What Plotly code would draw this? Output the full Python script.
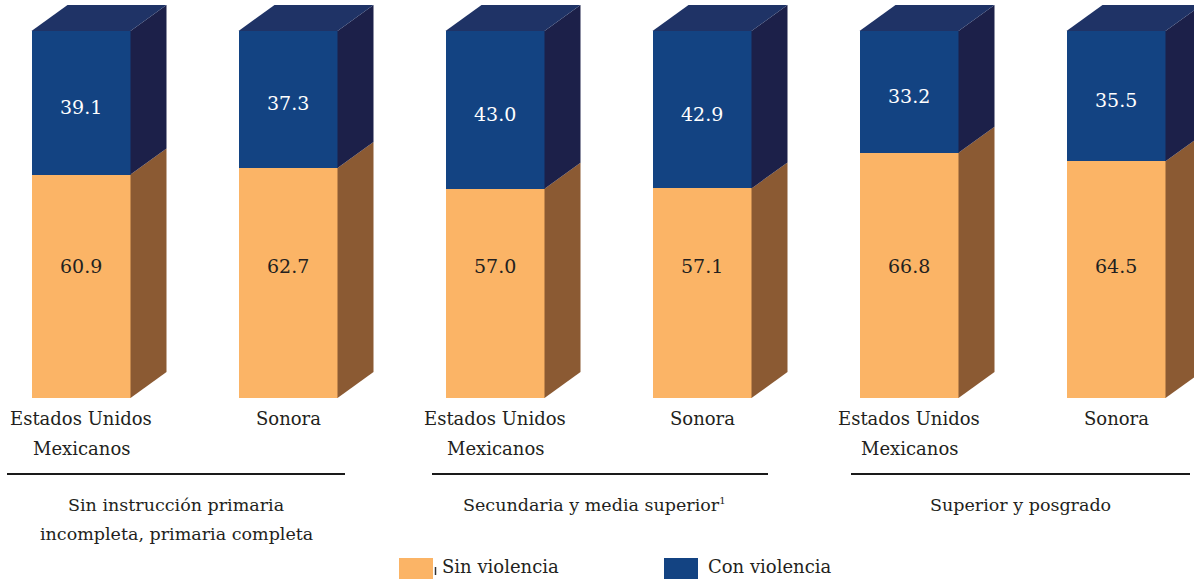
import plotly.graph_objects as go

# ---- data ----
categories = ["Estados Unidos<br>Mexicanos", "Sonora",
              "Estados Unidos<br>Mexicanos", "Sonora",
              "Estados Unidos<br>Mexicanos", "Sonora"]
sin_violencia = [60.9, 62.7, 57.0, 57.1, 66.8, 64.5]
con_violencia = [39.1, 37.3, 43.0, 42.9, 33.2, 35.5]
groups = ["Sin instrucción primaria<br>incompleta, primaria completa",
          "Secundaria y media superior<sup><span style='font-size:10px'>1</span></sup>",
          "Superior y posgrado"]
series_names = ["Sin violencia", "Con violencia"]

# ---- styling ----
W, H = 1194, 579
FONT = "DejaVu Serif"
TXT = "#231f20"
C_ORANGE, C_ORANGE_SIDE = "#fbb466", "#8b5a33"
C_BLUE, C_BLUE_SIDE, C_BLUE_TOP = "#134382", "#1c2049", "#1f3366"

X0_PX, STEP_PX = 81.0, 207.0
Y0_PX, Y100_PX = 398.0, 31.0
ppu = (Y0_PX - Y100_PX) / 100.0
xr = [(0 - X0_PX) / STEP_PX, (W - X0_PX) / STEP_PX]
yr = [-(H - Y0_PX) / ppu, Y0_PX / ppu]


def px2x(p):
    return (p - X0_PX) / STEP_PX


def px2y(p):
    return (Y0_PX - p) / ppu


BAR_W = 99.0 / STEP_PX
DX = 36.0 / STEP_PX
DY = 26.0 / ppu
ORANGE_LABEL_Y = px2y(266)   # value labels in the orange part sit at a common height
BLUE_LABEL_SHIFT = -4.0 / ppu  # blue labels slightly below the centre

xs = list(range(len(categories)))
fig = go.Figure()

for i, (a, b) in enumerate(zip(sin_violencia, con_violencia)):
    xr_edge = i + BAR_W / 2
    xl_edge = i - BAR_W / 2
    fig.add_trace(go.Scatter(
        x=[xr_edge, xr_edge + DX, xr_edge + DX, xr_edge, xr_edge],
        y=[0, DY, a + DY, a, 0], fill="toself", fillcolor=C_ORANGE_SIDE,
        line=dict(width=0), mode="lines", hoverinfo="skip", showlegend=False))
    fig.add_trace(go.Scatter(
        x=[xr_edge, xr_edge + DX, xr_edge + DX, xr_edge, xr_edge],
        y=[a, a + DY, a + b + DY, a + b, a], fill="toself", fillcolor=C_BLUE_SIDE,
        line=dict(width=0), mode="lines", hoverinfo="skip", showlegend=False))
    t = a + b
    fig.add_trace(go.Scatter(
        x=[xl_edge, xl_edge + DX, xr_edge + DX, xr_edge, xl_edge],
        y=[t, t + DY, t + DY, t, t], fill="toself", fillcolor=C_BLUE_TOP,
        line=dict(width=0), mode="lines", hoverinfo="skip", showlegend=False))

fig.add_trace(go.Bar(
    x=xs, y=sin_violencia, name=series_names[0], width=BAR_W,
    marker=dict(color=C_ORANGE, line=dict(width=0)),
    showlegend=False, hoverinfo="skip"))
fig.add_trace(go.Bar(
    x=xs, y=con_violencia, name=series_names[1], width=BAR_W,
    marker=dict(color=C_BLUE, line=dict(width=0)),
    showlegend=False, hoverinfo="skip"))

annotations = []
shapes = []
# value labels
for i, (a, b) in enumerate(zip(sin_violencia, con_violencia)):
    annotations.append(dict(
        x=i, y=ORANGE_LABEL_Y, xref="x", yref="y", text=f"{a:.1f}",
        showarrow=False, font=dict(family=FONT, size=19, color=TXT),
        xanchor="center", yanchor="middle"))
    annotations.append(dict(
        x=i, y=a + b / 2 + BLUE_LABEL_SHIFT, xref="x", yref="y", text=f"{b:.1f}",
        showarrow=False, font=dict(family=FONT, size=19, color="white"),
        xanchor="center", yanchor="middle"))

# category labels
for i, c in enumerate(categories):
    lines = c.split("<br>")
    for k, ln in enumerate(lines):
        annotations.append(dict(
            x=i, y=px2y(418 + 30 * k), xref="x", yref="y", text=ln,
            showarrow=False, font=dict(family=FONT, size=18, color=TXT),
            xanchor="center", yanchor="middle"))

line_px = [(7, 345), (432, 768), (851, 1190)]
label_cx = [176, 594, 1020]
for g, (lp, cx) in enumerate(zip(line_px, label_cx)):
    shapes.append(dict(type="line", xref="x", yref="y",
                       x0=px2x(lp[0]), x1=px2x(lp[1]),
                       y0=px2y(474), y1=px2y(474),
                       line=dict(color="#1a1a1a", width=2)))
    lines = groups[g].split("<br>")
    for k, ln in enumerate(lines):
        annotations.append(dict(
            x=px2x(cx), y=px2y(505 + 29 * k), xref="x", yref="y", text=ln,
            showarrow=False, font=dict(family=FONT, size=17.5, color=TXT),
            xanchor="center", yanchor="middle"))

# manual legend
leg = [(399, C_ORANGE, series_names[0], 440), (664, C_BLUE, series_names[1], 706)]
for x0, col, name, tx in leg:
    shapes.append(dict(type="rect", xref="x", yref="y",
                       x0=px2x(x0), x1=px2x(x0 + 34),
                       y0=px2y(558), y1=px2y(579),
                       fillcolor=col, line=dict(width=0)))
    annotations.append(dict(
        x=px2x(tx), y=px2y(566), xref="x", yref="y", text=name,
        showarrow=False, font=dict(family=FONT, size=18, color=TXT),
        xanchor="left", yanchor="middle"))
shapes.append(dict(type="line", xref="x", yref="y",
                   x0=px2x(435.5), x1=px2x(435.5), y0=px2y(567), y1=px2y(575),
                   line=dict(color="#333333", width=1.5)))

fig.update_layout(
    width=W, height=H, barmode="stack", bargap=0,
    margin=dict(l=0, r=0, t=0, b=0),
    paper_bgcolor="white", plot_bgcolor="white",
    font=dict(family=FONT, color=TXT),
    xaxis=dict(range=xr, visible=False, fixedrange=True),
    yaxis=dict(range=yr, visible=False, fixedrange=True),
    shapes=shapes, annotations=annotations,
)

fig.write_html("out.html", config={"displayModeBar": False},
               post_script="document.body.style.margin='0';document.body.style.overflow='hidden';")
